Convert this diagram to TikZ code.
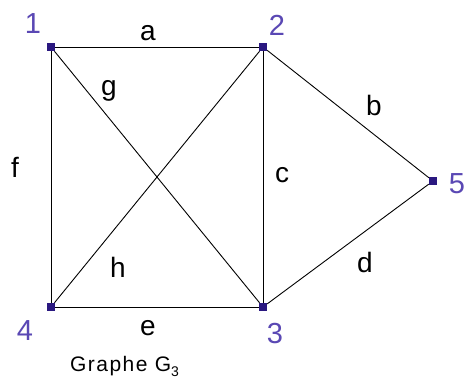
\documentclass[tikz,border=0pt]{standalone}
\usepackage{fontspec}
\setmainfont{Liberation Sans}
\begin{document}
\begin{tikzpicture}[x=1pt,y=-1pt,
  vtx/.style={fill=vcol,draw=none,minimum size=8pt,inner sep=0pt,rectangle},
  edge/.style={draw=black,line width=0.9pt},
  elab/.style={font=\fontsize{28}{30}\selectfont,anchor=base,inner sep=0pt},
  vlab/.style={font=\fontsize{29}{30}\selectfont,text=lcol,anchor=base,inner sep=0pt}]
\definecolor{vcol}{HTML}{2A1880}
\definecolor{lcol}{HTML}{5A48B4}
\useasboundingbox (0,0) rectangle (466,389);
\fill[white] (0,0) rectangle (466,389);
\node[vtx] (n1) at (51,47) {};
\node[vtx] (n2) at (263,47) {};
\node[vtx] (n5) at (433,181) {};
\node[vtx] (n4) at (51,307) {};
\node[vtx] (n3) at (263,307) {};
\draw[edge] (n1) -- (n2);
\draw[edge] (n1) -- (n4);
\draw[edge] (n1) -- (n3);
\draw[edge] (n2) -- (n4);
\draw[edge] (n2) -- (n3);
\draw[edge] (n2) -- (n5);
\draw[edge] (n3) -- (n5);
\draw[edge] (n4) -- (n3);
\node[vlab] (l1) at (33,33) {1};
\node[vlab] (l2) at (277,35) {2};
\node[vlab] (l5) at (457,193) {5};
\node[vlab] (l4) at (25,340) {4};
\node[vlab] (l3) at (275,343) {3};
\node[elab] (ea) at (148,40) {a};
\node[elab] (eg) at (109,95) {g};
\node[elab] (ef) at (15,177) {f};
\node[elab] (ec) at (282,182) {c};
\node[elab] (eb) at (374,115) {b};
\node[elab] (ed) at (365,272) {d};
\node[elab] (eh) at (118,277) {h};
\node[elab] (ee) at (148,335) {e};
\node[anchor=base west,inner sep=0pt,font=\fontsize{21}{22}\selectfont\addfontfeatures{LetterSpace=7}] (cap) at (70,371) {Graphe G\raisebox{-0.25em}{\fontsize{14}{15}\selectfont 3}};
\end{tikzpicture}
\end{document}
